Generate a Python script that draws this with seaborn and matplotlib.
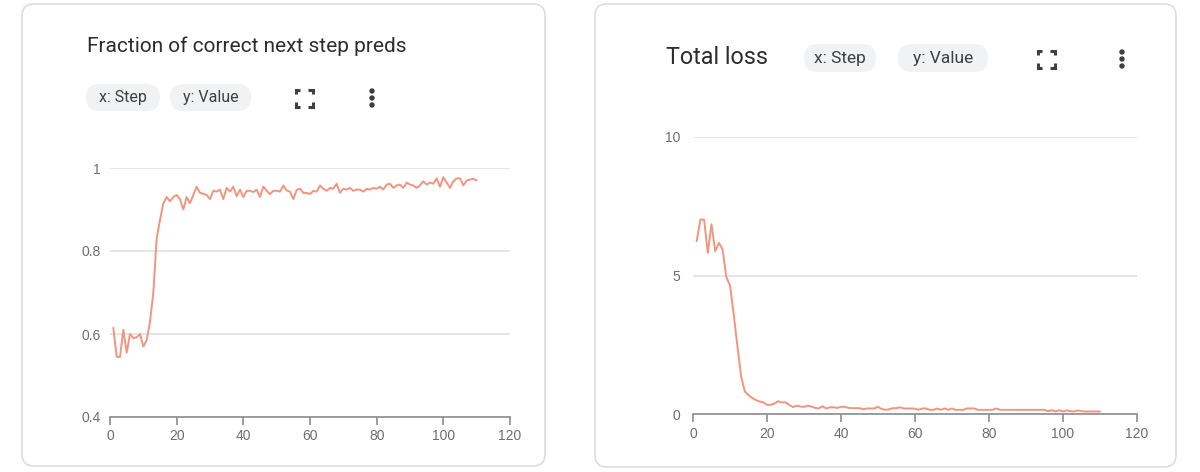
import matplotlib
matplotlib.use("Agg")
import matplotlib.pyplot as plt
from matplotlib.patches import FancyBboxPatch, Circle
import pandas as pd
import seaborn as sns

W, H = 1200, 472

# --- data ---
steps = list(range(1, 111))
frac_correct = [
    0.615, 0.545, 0.545, 0.610, 0.555, 0.600, 0.590, 0.592, 0.600, 0.570,
    0.585, 0.630, 0.700, 0.830, 0.875, 0.915, 0.930, 0.920, 0.930, 0.935,
    0.925, 0.900, 0.930, 0.915, 0.935, 0.955, 0.940, 0.938, 0.935, 0.925,
    0.945, 0.943, 0.948, 0.925, 0.952, 0.943, 0.955, 0.932, 0.948, 0.930,
    0.945, 0.945, 0.942, 0.948, 0.930, 0.955, 0.945, 0.937, 0.945, 0.945,
    0.943, 0.958, 0.946, 0.943, 0.925, 0.947, 0.950, 0.940, 0.940, 0.937,
    0.945, 0.943, 0.958, 0.950, 0.945, 0.952, 0.950, 0.962, 0.940, 0.950,
    0.948, 0.952, 0.945, 0.948, 0.948, 0.943, 0.950, 0.948, 0.952, 0.950,
    0.955, 0.948, 0.960, 0.962, 0.952, 0.958, 0.960, 0.952, 0.965, 0.960,
    0.958, 0.952, 0.958, 0.968, 0.960, 0.965, 0.962, 0.975, 0.955, 0.978,
    0.965, 0.952, 0.968, 0.975, 0.975, 0.958, 0.970, 0.972, 0.974, 0.970,
]
total_loss = [
    6.24, 7.02, 7.02, 5.82, 6.85, 5.88, 6.18, 5.94, 4.95, 4.64,
    3.60, 2.45, 1.36, 0.82, 0.68, 0.58, 0.50, 0.45, 0.42, 0.33,
    0.33, 0.38, 0.46, 0.42, 0.42, 0.33, 0.25, 0.30, 0.27, 0.26,
    0.30, 0.27, 0.22, 0.20, 0.28, 0.20, 0.24, 0.24, 0.22, 0.26,
    0.26, 0.22, 0.21, 0.21, 0.21, 0.17, 0.20, 0.20, 0.20, 0.26,
    0.18, 0.15, 0.17, 0.21, 0.21, 0.24, 0.20, 0.20, 0.20, 0.19,
    0.15, 0.20, 0.20, 0.15, 0.15, 0.20, 0.15, 0.20, 0.15, 0.20,
    0.15, 0.15, 0.15, 0.20, 0.20, 0.20, 0.15, 0.15, 0.15, 0.15,
    0.15, 0.20, 0.15, 0.15, 0.15, 0.15, 0.15, 0.15, 0.15, 0.15,
    0.15, 0.15, 0.15, 0.15, 0.15, 0.10, 0.14, 0.09, 0.14, 0.09,
    0.13, 0.10, 0.09, 0.13, 0.10, 0.09, 0.09, 0.09, 0.09, 0.09,
]
frac_ticks = [0.4, 0.6, 0.8, 1]
loss_ticks = [0, 5, 10]
step_ticks = [0, 20, 40, 60, 80, 100, 120]

LINE = "#f2957f"
GRID = "#dfe0e3"
AXIS = "#8a8d91"
LABEL = "#6b6e73"
CHIP = "#f0f2f4"
DARK = "#2b2d30"

sns.set_theme(style="white")
plt.rcParams["font.family"] = ["Liberation Sans", "DejaVu Sans"]

fig = plt.figure(figsize=(W / 100, H / 100), dpi=100, facecolor="white")

# page furniture lives on one full-figure axes in pixel coords
bg = fig.add_axes([0, 0, 1, 1], zorder=0)
bg.set_xlim(0, W)
bg.set_ylim(H, 0)
bg.axis("off")


def chip(x0, x1, y0, y1, text, size=11.5):
    r = (y1 - y0) / 2
    bg.add_patch(FancyBboxPatch((x0 + r, y0 + r), x1 - x0 - 2 * r, 0,
                                boxstyle=f"round,pad={r},rounding_size={r}",
                                fc=CHIP, ec="none"))
    bg.text((x0 + x1) / 2, (y0 + y1) / 2, text, ha="center", va="center",
            fontsize=size, color="#3c3f43", family="Roboto")


def fullscreen_icon(cx, cy):
    s, a = 8.5, 4.5
    for dx in (-1, 1):
        for dy in (-1, 1):
            x, y = cx + dx * s, cy + dy * s
            bg.plot([x, x, x - dx * a], [y - dy * a, y, y], color="#3c3f43",
                    lw=2.2, solid_joinstyle="miter", solid_capstyle="butt")


def dots_icon(cx, cy):
    for dy in (-7, 0, 7):
        bg.add_patch(Circle((cx, cy + dy), 2.7, fc="#3c3f43", ec="none"))


def card(x0, x1, y0, y1):
    bg.add_patch(FancyBboxPatch((x0 + 12, y0 + 12), x1 - x0 - 24, y1 - y0 - 24,
                                boxstyle="round,pad=12,rounding_size=12",
                                fc="white", ec="#dcdde0", lw=1.2))


def chart(values, box, ylim, yticks, ticklabels, ypad, xpad):
    left, right, top, bottom = box
    ax = fig.add_axes([left / W, 1 - bottom / H, (right - left) / W, (bottom - top) / H],
                      zorder=1)
    ax.patch.set_alpha(0)
    df = pd.DataFrame({"Step": steps, "Value": values})
    sns.lineplot(data=df, x="Step", y="Value", ax=ax, color=LINE, lw=1.4, clip_on=False)
    ax.set_xlim(0, 120)
    ax.set_ylim(*ylim)
    ax.set_xticks(step_ticks)
    ax.set_yticks(yticks)
    ax.set_yticklabels(ticklabels, va="center_baseline")
    ax.set_xlabel("")
    ax.set_ylabel("")
    ax.grid(axis="y", color=GRID, lw=1.2)
    ax.set_axisbelow(True)
    for side in ("top", "right", "left"):
        ax.spines[side].set_visible(False)
    ax.spines["bottom"].set_color(AXIS)
    ax.spines["bottom"].set_linewidth(1.2)
    ax.tick_params(axis="x", length=5.5, width=1.2, color=AXIS, labelcolor=LABEL,
                   labelsize=10, pad=xpad, bottom=True)
    ax.tick_params(axis="y", length=0, labelcolor=LABEL, labelsize=10, pad=ypad)
    return ax


card(22, 545, 4, 466)
card(595, 1176, 4, 467)

bg.text(87, 46, "Fraction of correct next step preds", ha="left", va="center",
        fontsize=15, color=DARK, family="Roboto")
chip(86, 160, 84, 111, "x: Step")
chip(170, 251, 84, 111, "y: Value")
fullscreen_icon(304, 98)
dots_icon(372, 98)

bg.text(666, 57, "Total loss", ha="left", va="center",
        fontsize=16.8, color=DARK, family="Roboto")
chip(804, 876, 44, 72, "x: Step", size=12.5)
chip(898, 988, 44, 72, "y: Value", size=12.5)
fullscreen_icon(1046, 59)
dots_icon(1122, 59)

chart(frac_correct, (110, 510, 168, 417), (0.4, 1), frac_ticks, ["0.4", "0.6", "0.8", "1"], 7, 3)
chart(total_loss, (693, 1137, 137, 414), (0, 10), loss_ticks, ["0", "5", "10"], 9, 4)

fig.savefig("out.png", dpi=100, facecolor="white")
